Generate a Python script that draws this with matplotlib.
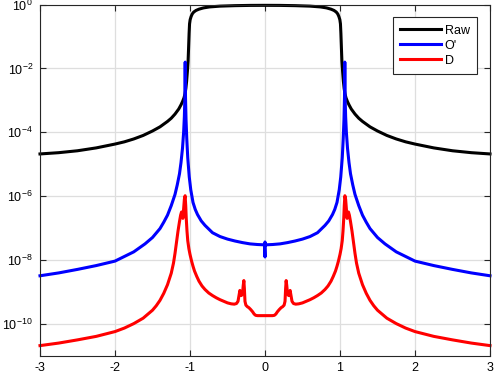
import numpy as np
import matplotlib
matplotlib.use("Agg")
import matplotlib.pyplot as plt

plt.rcParams['font.family'] = ['Liberation Sans', 'DejaVu Sans']
plt.rcParams['mathtext.fontset'] = 'custom'
plt.rcParams['mathtext.rm'] = 'Liberation Sans'
plt.rcParams['mathtext.it'] = 'Liberation Sans'

# ---- data (log10 values; left half, mirrored to right) ----
raw_x_left = [-3.0, -2.75, -2.5, -2.25, -2.0, -1.875, -1.75, -1.625, -1.5, -1.4, -1.3,
              -1.25, -1.2, -1.15, -1.12, -1.1, -1.08, -1.065, -1.055, -1.045, -1.035,
              -1.025, -1.018, -1.012, -1.006, -0.998, -0.985, -0.97, -0.95, -0.92,
              -0.88, -0.82, -0.74, -0.6, -0.4, -0.2]
raw_log_left = [-4.68, -4.64, -4.58, -4.49, -4.37, -4.3, -4.21, -4.1, -3.96, -3.83, -3.66,
                -3.56, -3.43, -3.27, -3.14, -3.04, -2.92, -2.78, -2.62, -2.4, -2.1,
                -1.75, -1.3, -0.9, -0.6, -0.47, -0.37, -0.29, -0.23, -0.18,
                -0.14, -0.1, -0.07, -0.045, -0.03, -0.022]
raw_x_center = [0.0]
raw_log_center = [-0.02]

op_x_left = [-3.0, -2.75, -2.5, -2.25, -2.0, -1.75, -1.6, -1.5, -1.4, -1.35, -1.3, -1.25,
             -1.2, -1.17, -1.14, -1.12, -1.1, -1.085, -1.075, -1.068, -1.064, -1.06,
             -1.053, -1.043, -1.03, -1.01, -0.99, -0.96, -0.93, -0.9, -0.85, -0.8,
             -0.7, -0.6, -0.5, -0.4, -0.3, -0.2, -0.1, -0.005]
op_log_left = [-8.5, -8.41, -8.3, -8.18, -8.04, -7.75, -7.5, -7.3, -7.02, -6.82, -6.6, -6.3,
               -5.95, -5.65, -5.3, -4.95, -4.5, -4.0, -3.5, -2.9, -1.8, -2.9,
               -3.6, -4.2, -4.8, -5.4, -5.8, -6.2, -6.42, -6.58, -6.78, -6.92,
               -7.15, -7.27, -7.35, -7.41, -7.46, -7.5, -7.52, -7.53]
op_x_center = [0.0, 0.0]
op_log_center = [-7.91, -7.44]

d_x_left = [-3.0, -2.75, -2.5, -2.25, -2.0, -1.875, -1.75, -1.625, -1.5, -1.45, -1.4,
            -1.35, -1.3, -1.25, -1.22, -1.2, -1.18, -1.16, -1.14, -1.125, -1.113, -1.103,
            -1.095, -1.085, -1.075, -1.065, -1.057, -1.05, -1.04, -1.03, -1.015, -1.0,
            -0.98, -0.96, -0.94, -0.91, -0.88, -0.84, -0.8, -0.75, -0.7, -0.65, -0.6,
            -0.55, -0.5, -0.45, -0.41, -0.38, -0.36, -0.345, -0.335, -0.325, -0.315,
            -0.3, -0.29, -0.282, -0.275, -0.267, -0.255, -0.235, -0.215, -0.19, -0.165,
            -0.145, -0.125, -0.1]
d_log_left = [-10.69, -10.61, -10.51, -10.4, -10.25, -10.14, -10.0, -9.83, -9.58, -9.44,
              -9.27, -9.05, -8.78, -8.42, -8.1, -7.8, -7.45, -7.1, -6.8, -6.6, -6.5,
              -6.55, -6.7, -6.4, -6.1, -5.99, -6.3, -6.7, -7.1, -7.4, -7.65, -7.83,
              -8.03, -8.2, -8.35, -8.52, -8.67, -8.82, -8.93, -9.04, -9.12, -9.19,
              -9.25, -9.3, -9.35, -9.38, -9.39, -9.37, -9.3, -9.1, -8.96, -9.05, -9.12,
              -9.05, -8.8, -8.65, -8.9, -9.3, -9.42, -9.47, -9.5, -9.56, -9.63, -9.7,
              -9.74, -9.75]
d_x_center = [0.0]
d_log_center = [-9.75]

xticks = [-3, -2, -1, 0, 1, 2, 3]
yticks_exp = [0, -2, -4, -6, -8, -10]


def full(xl, yl, xc, yc):
    x = list(xl) + list(xc) + [-v for v in reversed(xl)]
    y = list(yl) + list(yc) + list(reversed(yl))
    return np.array(x), 10.0 ** np.array(y)


fig = plt.figure(figsize=(5.0, 3.81), dpi=100)
ax = fig.add_axes([40 / 500, 1 - 355.5 / 381, 450 / 500, (355.5 - 4.7) / 381])

series = [
    ("Raw", raw_x_left, raw_log_left, raw_x_center, raw_log_center, "#000000"),
    ("O'", op_x_left, op_log_left, op_x_center, op_log_center, "#0000ff"),
    ("D", d_x_left, d_log_left, d_x_center, d_log_center, "#ff0000"),
]
for name, xl, yl, xc, yc, col in series:
    x, y = full(xl, yl, xc, yc)
    ax.plot(x, y, color=col, lw=2.2, label=name, solid_joinstyle='round', clip_on=False)

ax.set_yscale('log')
ax.set_xlim(-3, 3)
ax.set_ylim(1e-11, 1)
ax.set_xticks(xticks)
ax.set_xticklabels([str(t) for t in xticks])
ax.set_yticks([10.0 ** e for e in yticks_exp])
ax.set_yticklabels([r'$10^{%d}$' % e for e in yticks_exp])
ax.yaxis.set_minor_locator(matplotlib.ticker.NullLocator())

ax.grid(True, color='#dedede', lw=0.9)
ax.set_axisbelow(True)
for s in ax.spines.values():
    s.set_color('#262626')
    s.set_linewidth(0.8)
ax.tick_params(direction='in', top=True, right=True, length=4.5, width=0.8,
               colors='#262626', labelsize=9, pad=5)
for lab in ax.get_xticklabels() + ax.get_yticklabels():
    lab.set_color('#000000')

leg = ax.legend(loc='upper right', bbox_to_anchor=(477 / 500, 1 - 17 / 381),
                bbox_transform=fig.transFigure, borderaxespad=0, fontsize=9,
                handlelength=3.3, handletextpad=0.25, labelspacing=0.25,
                borderpad=0.6, fancybox=False, framealpha=1, edgecolor='#262626')
leg.get_frame().set_linewidth(0.8)

fig.savefig("out.png", dpi=100)
